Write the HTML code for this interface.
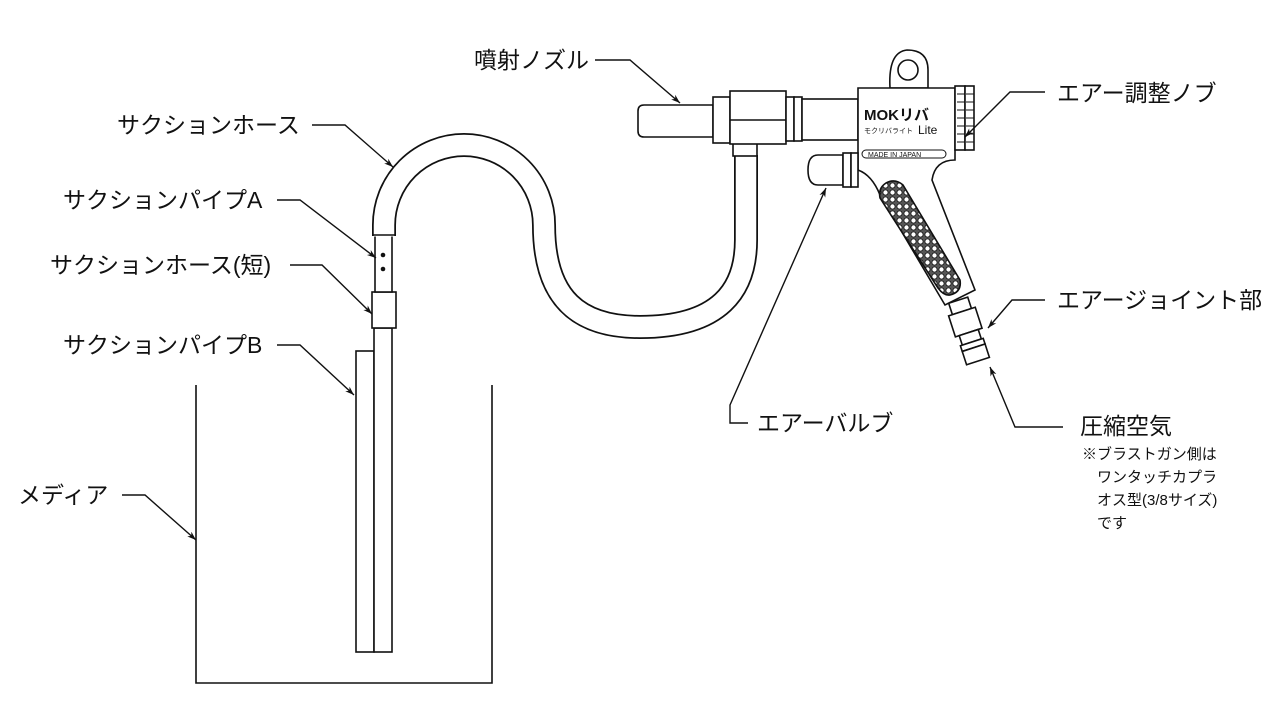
<!DOCTYPE html>
<html><head><meta charset="utf-8"><style>
html,body{margin:0;padding:0;background:#fff;}
svg{display:block;}
text{font-family:"Liberation Sans","Noto Sans CJK JP",sans-serif;fill:#111;}
</style></head><body>
<svg width="1280" height="720" viewBox="0 0 1280 720" xmlns="http://www.w3.org/2000/svg">
<defs>
<marker id="ar" viewBox="0 0 10 10" refX="10" refY="5" markerWidth="9" markerHeight="9" orient="auto-start-reverse" markerUnits="userSpaceOnUse">
<path d="M0,1.5 L10,5 L0,8.5 L3,5 Z" fill="#111"/></marker>
<pattern id="dots" width="7" height="7" patternUnits="userSpaceOnUse"><rect width="7" height="7" fill="#555"/><circle cx="3.5" cy="3.5" r="2.6" fill="#fff" stroke="#111" stroke-width="0.8"/></pattern>
</defs>
<g fill="none" stroke="#111" stroke-width="1.6">
<path d="M196,385 V683 H492 V385"/>
<rect x="356" y="351" width="18" height="301" fill="#fff"/>
<rect x="374" y="328" width="18" height="324" fill="#fff"/>
<rect x="372" y="292" width="24" height="36" fill="#fff"/>
<rect x="375" y="235" width="17" height="57" fill="#fff"/>
</g>
<circle cx="383" cy="255" r="2.3" fill="#111"/>
<circle cx="383" cy="269" r="2.3" fill="#111"/>
<path d="M384,236 L384,225 A80,80 0 0 1 544,225 C544,300 580,327 640,327 C720,327 746,290 746,240 L746,155" fill="none" stroke="#111" stroke-width="24"/>
<path d="M384,236.5 L384,225 A80,80 0 0 1 544,225 C544,300 580,327 640,327 C720,327 746,290 746,240 L746,154" fill="none" stroke="#fff" stroke-width="20.5"/>
<line x1="372" y1="235" x2="396" y2="235" stroke="#111" stroke-width="1.6"/>
<g fill="#fff" stroke="#111" stroke-width="1.6">
<rect x="733" y="143" width="24" height="13"/>
<path d="M644,105 H713 V137 H644 Q638,137 638,131 V111 Q638,105 644,105 Z"/>
<rect x="713" y="97" width="17" height="46"/>
<rect x="730" y="91" width="56" height="53"/>
<line x1="730" y1="120" x2="786" y2="120"/>
<rect x="786" y="97" width="8" height="44"/>
<rect x="794" y="97" width="8" height="44"/>
<rect x="802" y="99" width="56" height="41"/>
<path d="M890,88 Q888,52 907,50 Q928,50 928,70 L928,88 Z"/>
<circle cx="908" cy="70" r="10"/>
<path d="M858,160 L858,88 H955 V160 Q935,160 932,180 L975,290 L945,305 L880,195 Q872,175 858,170 Z"/>
<path d="M886,183 Q895,178 903,185 L960,280 Q962,292 950,295 Q944,296 938,288 L880,198 Q878,188 886,183 Z" fill="url(#dots)"/>
<rect x="955" y="86" width="10" height="64"/>
<rect x="965" y="86" width="9" height="64"/>
<path d="M818,155 H843 V185 H818 Q808,185 808,170 Q808,155 818,155 Z"/>
<rect x="843" y="153" width="8" height="34"/>
<rect x="851" y="153" width="7" height="34"/>
<g transform="rotate(-18 970 330)">
<rect x="958" y="298" width="20" height="12"/>
<rect x="954" y="310" width="28" height="22"/>
<rect x="958" y="332" width="20" height="10"/>
<rect x="956" y="342" width="24" height="6"/>
<rect x="956" y="348" width="24" height="14"/>
</g>
</g>
<g stroke="#111" stroke-width="1">
<line x1="957" y1="94" x2="965" y2="94"/><line x1="957" y1="102" x2="965" y2="102"/><line x1="957" y1="110" x2="965" y2="110"/><line x1="957" y1="118" x2="965" y2="118"/><line x1="957" y1="126" x2="965" y2="126"/><line x1="957" y1="134" x2="965" y2="134"/><line x1="957" y1="142" x2="965" y2="142"/>
<line x1="966" y1="94" x2="974" y2="94"/><line x1="966" y1="102" x2="974" y2="102"/><line x1="966" y1="110" x2="974" y2="110"/><line x1="966" y1="118" x2="974" y2="118"/><line x1="966" y1="126" x2="974" y2="126"/><line x1="966" y1="134" x2="974" y2="134"/><line x1="966" y1="142" x2="974" y2="142"/>
</g>
<text x="864" y="120" font-size="15" font-weight="bold">MOKリバ</text>
<text x="864" y="133" font-size="7">モクリバライト</text>
<text x="918" y="134" font-size="12">Lite</text>
<rect x="862" y="150" width="84" height="8" rx="4" fill="#fff" stroke="#111" stroke-width="1"/>
<text x="868" y="157" font-size="7">MADE IN JAPAN</text>
<g fill="none" stroke="#111" stroke-width="1.4" marker-end="url(#ar)">
<polyline points="595,60 630,60 680,103"/>
<polyline points="312,125 345,125 393,167"/>
<polyline points="277,200 300,200 376,258"/>
<polyline points="290,265 322,265 372,314"/>
<polyline points="277,345 300,345 354,395"/>
<polyline points="122,495 145,495 196,540"/>
<polyline points="1045,92 1010,92 965,137"/>
<polyline points="1045,300 1012,300 988,328"/>
<polyline points="748,423 730,423 730,405 826,188"/>
<polyline points="1063,427 1015,427 990,367"/>
</g>
<g font-size="23">
<text x="474" y="68">噴射ノズル</text>
<text x="117" y="133">サクションホース</text>
<text x="63" y="208">サクションパイプA</text>
<text x="50" y="273">サクションホース(短)</text>
<text x="63" y="353">サクションパイプB</text>
<text x="18" y="503">メディア</text>
<text x="1057" y="101">エアー調整ノブ</text>
<text x="1057" y="308">エアージョイント部</text>
<text x="757" y="431">エアーバルブ</text>
<text x="1080" y="434">圧縮空気</text>
</g>
<g font-size="15">
<text x="1082" y="459">※ブラストガン側は</text>
<text x="1097" y="482">ワンタッチカプラ</text>
<text x="1097" y="505">オス型(3/8サイズ)</text>
<text x="1097" y="528">です</text>
</g>
</svg>
</body></html>
